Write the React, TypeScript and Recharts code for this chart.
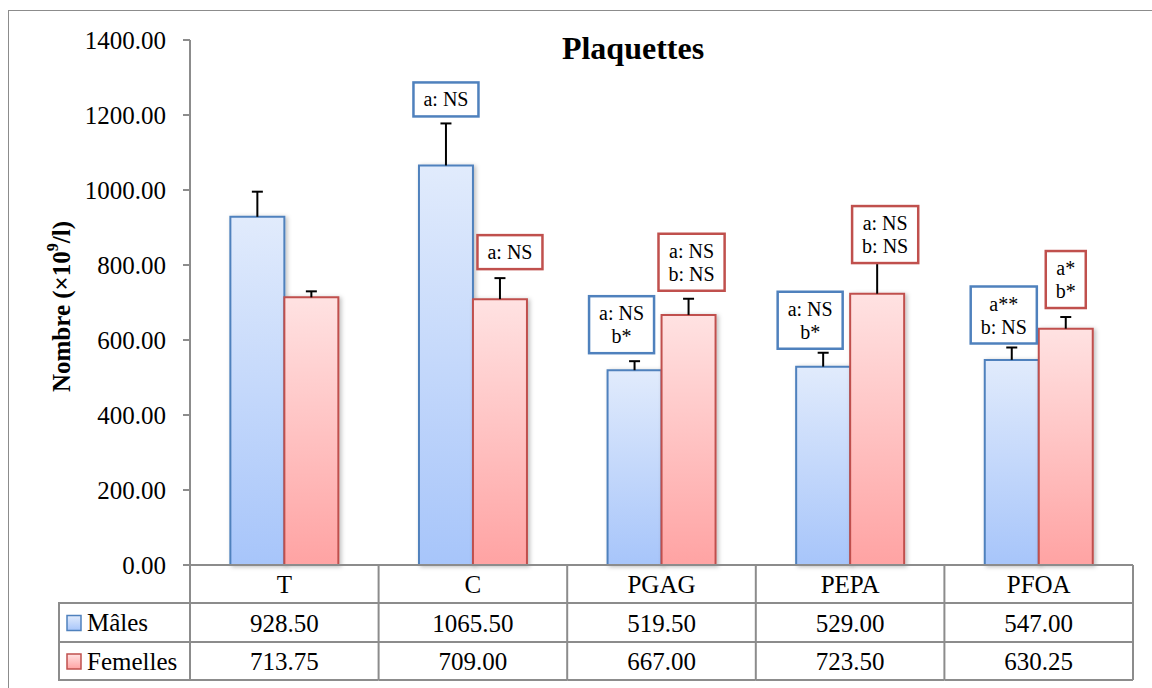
import React from "react";
import { BarChart, Bar, XAxis, YAxis, LabelList } from "recharts";

const categories = ["T", "C", "PGAG", "PEPA", "PFOA"];
const males = [928.5, 1065.5, 519.5, 529.0, 547.0];
const femelles = [713.75, 709.0, 667.0, 723.5, 630.25];
// upper error (SEM) read from the whiskers
const malesErr = [67, 112, 24, 37, 33];
const femellesErr = [16, 56, 43, 95, 31];
const malesNotes = [[], ["a: NS"], ["a: NS", "b*"], ["a: NS", "b*"], ["a**", "b: NS"]];
const femellesNotes = [[], ["a: NS"], ["a: NS", "b: NS"], ["a: NS", "b: NS"], ["a*", "b*"]];
const yTicks = [0, 200, 400, 600, 800, 1000, 1200, 1400];
const seriesNames = ["Mâles", "Femelles"];

// where the note boxes sit relative to their whisker (horizontal shift, gap above cap)
const malesNoteDx = [0, 0, -13, -13, -8];
const malesNoteGap = [0, 7, 8, 4, 4];
const femellesNoteDx = [0, 10, 3, 8, 0];
const femellesNoteGap = [0, 9, 8, -5, 9];

const data = categories.map((cat, i) => ({ cat, males: males[i], femelles: femelles[i] }));

const FONT = "'Liberation Serif', 'Times New Roman', Times, serif";
const W = 1152;
const H = 688;
const MARGIN = { top: 40, right: 19, bottom: 5, left: 90 };
const Y_W = 100;
const X_H = 118;
const GRID = "#8c8c8c";
const BLUE = "#4F81BD";
const RED = "#C0504D";
const serif = { fontFamily: FONT };

let ctx: CanvasRenderingContext2D | null = null;
const measure = (t: string, size: number) => {
  if (!ctx) ctx = document.createElement("canvas").getContext("2d");
  if (!ctx) return t.length * size * 0.5;
  ctx.font = `${size}px ${FONT}`;
  return ctx.measureText(t).width;
};

const makeMarks =
  (values: number[], errs: number[], notes: string[][], dxs: number[], gaps: number[], color: string) =>
  (props: any) => {
    const vb = props.viewBox ?? props;
    const { x, y, width, height } = vb;
    const i = categories.indexOf(props.value);
    if (i < 0 || !height) return null;
    const cx = x + width / 2;
    const errTop = y - (errs[i] * height) / values[i];
    const lines = notes[i];
    let box = null;
    if (lines.length) {
      const bw = Math.max(...lines.map((l) => measure(l, 20))) + 20;
      const bh = lines.length * 23 + 11;
      const bx = cx + dxs[i] - bw / 2;
      const by = errTop - gaps[i] - bh;
      box = (
        <g>
          <rect x={bx} y={by} width={bw} height={bh} fill="#fff" stroke={color} strokeWidth={2.5} />
          {lines.map((l, k) => (
            <text
              key={k}
              x={bx + bw / 2}
              y={by + 17 + 23 * k}
              textAnchor="middle"
              dominantBaseline="central"
              style={serif}
              fontSize={20}
              fill="#000"
            >
              {l}
            </text>
          ))}
        </g>
      );
    }
    return (
      <g>
        <line x1={cx} y1={y} x2={cx} y2={errTop} stroke="#000" strokeWidth={2} />
        <line x1={cx - 5.5} x2={cx + 5.5} y1={errTop} y2={errTop} stroke="#000" strokeWidth={2} />
        {box}
      </g>
    );
  };

const maleMarks = makeMarks(males, malesErr, malesNotes, malesNoteDx, malesNoteGap, BLUE);
const femaleMarks = makeMarks(femelles, femellesErr, femellesNotes, femellesNoteDx, femellesNoteGap, RED);

const ROW = [38, 77, 115];

const TableTick = (props: any) => {
  const { x, y, payload, index } = props;
  const i = categories.indexOf(payload.value);
  const half = payload.offset > 0 ? payload.offset : (W - MARGIN.left - MARGIN.right - Y_W) / categories.length / 2;
  const left = x - half;
  const right = x + half;
  const txt = { style: serif, fontSize: 25, fill: "#000", textAnchor: "middle" as const, dominantBaseline: "central" as const };
  return (
    <g>
      <line x1={right} x2={right} y1={y} y2={y + ROW[2]} stroke={GRID} strokeWidth={2} />
      {index === 0 && <line x1={left} x2={left} y1={y} y2={y + ROW[2]} stroke={GRID} strokeWidth={2} />}
      <line x1={left} x2={right} y1={y + ROW[0]} y2={y + ROW[0]} stroke={GRID} strokeWidth={2} />
      <line x1={left} x2={right} y1={y + ROW[1]} y2={y + ROW[1]} stroke={GRID} strokeWidth={2} />
      <line x1={left} x2={right} y1={y + ROW[2]} y2={y + ROW[2]} stroke={GRID} strokeWidth={2} />
      <text x={x} y={y + 19} {...txt}>{payload.value}</text>
      <text x={x} y={y + 58} {...txt}>{males[i].toFixed(2)}</text>
      <text x={x} y={y + 96} {...txt}>{femelles[i].toFixed(2)}</text>
      {index === 0 && (
        <g>
          <rect x={59} y={y + ROW[0]} width={left - 59} height={ROW[2] - ROW[0]} fill="none" stroke={GRID} strokeWidth={2} />
          <line x1={59} x2={left} y1={y + ROW[1]} y2={y + ROW[1]} stroke={GRID} strokeWidth={2} />
          {seriesNames.map((n, k) => {
            const cy = y + (ROW[k] + ROW[k + 1]) / 2;
            return (
              <g key={n}>
                <rect x={67} y={cy - 7} width={14} height={15} fill={k === 0 ? "url(#gBlue)" : "url(#gRed)"} stroke={k === 0 ? BLUE : RED} strokeWidth={1.5} />
                <text x={87} y={cy} style={serif} fontSize={25} fill="#000" dominantBaseline="central">{n}</text>
              </g>
            );
          })}
        </g>
      )}
    </g>
  );
};

const YTitle = (props: any) => {
  const vb = props.viewBox ?? {};
  const cy = (vb.y ?? 40) + (vb.height ?? 525) / 2 + 4;
  const cx = 61;
  return (
    <text
      x={cx}
      y={cy}
      transform={`rotate(-90 ${cx} ${cy})`}
      textAnchor="middle"
      dominantBaseline="central"
      style={serif}
      fontSize={25}
      fontWeight="bold"
      fill="#000"
    >
      Nombre (×10
      <tspan dy={-9} fontSize={16}>9</tspan>
      <tspan dy={9}>/l)</tspan>
    </text>
  );
};

export default function App() {
  return (
    <div style={{ position: "absolute", left: 0, top: 0, width: W, height: H, background: "#fff", overflow: "hidden", fontFamily: FONT }}>
      <div
        style={{
          position: "absolute",
          left: 8,
          top: 10,
          width: W,
          height: H,
          borderLeft: "1.5px solid #8c8c8c",
          borderTop: "1.5px solid #8c8c8c",
        }}
      />
      <div
        style={{
          position: "absolute",
          left: 533,
          top: 32,
          width: 200,
          textAlign: "center",
          fontFamily: FONT,
          fontSize: 32,
          lineHeight: "32px",
          fontWeight: "bold",
          color: "#000",
        }}
      >
        Plaquettes
      </div>
      <div style={{ position: "absolute", left: 0, top: 0 }}>
        <BarChart width={W} height={H} data={data} margin={MARGIN} barCategoryGap="21.4%" barGap={0} style={serif}>
          <defs>
            <linearGradient id="gBlue" x1="0" y1="0" x2="0" y2="1">
              <stop offset="0%" stopColor="#E1EBFC" />
              <stop offset="100%" stopColor="#A7C5FA" />
            </linearGradient>
            <linearGradient id="gRed" x1="0" y1="0" x2="0" y2="1">
              <stop offset="0%" stopColor="#FFE2E2" />
              <stop offset="100%" stopColor="#FFA3A3" />
            </linearGradient>
            <filter id="barShadow" x="-20%" y="-5%" width="140%" height="110%">
              <feDropShadow dx="2" dy="1" stdDeviation="2" floodColor="#000" floodOpacity="0.25" />
            </filter>
          </defs>
          <XAxis
            dataKey="cat"
            height={X_H}
            tickLine={false}
            tickSize={0}
            tickMargin={0}
            axisLine={{ stroke: GRID, strokeWidth: 2 }}
            tick={<TableTick />}
            interval={0}
          />
          <YAxis
            width={Y_W}
            domain={[0, 1400]}
            ticks={yTicks}
            interval={0}
            tickSize={7}
            tickMargin={17}
            tickFormatter={(v: number) => v.toFixed(2)}
            tick={{ style: serif, fontSize: 25, fill: "#000" }}
            axisLine={{ stroke: GRID, strokeWidth: 2 }}
            tickLine={{ stroke: GRID, strokeWidth: 2 }}
            label={<YTitle />}
          />
          <Bar dataKey="males" fill="url(#gBlue)" stroke={BLUE} strokeWidth={2} filter="url(#barShadow)" isAnimationActive={false}>
            <LabelList dataKey="cat" content={maleMarks} />
          </Bar>
          <Bar dataKey="femelles" fill="url(#gRed)" stroke={RED} strokeWidth={2} filter="url(#barShadow)" isAnimationActive={false}>
            <LabelList dataKey="cat" content={femaleMarks} />
          </Bar>
        </BarChart>
      </div>
    </div>
  );
}
